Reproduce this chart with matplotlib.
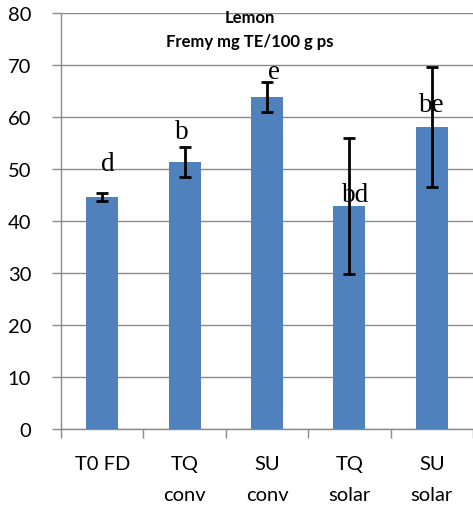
import matplotlib
matplotlib.use('Agg')
import matplotlib.pyplot as plt
import numpy as np

# Lemon, Fremy assay (mg TE/100 g ps)
treatments = ['T0 FD', 'TQ\nconv', 'SU\nconv', 'TQ\nsolar', 'SU\nsolar']
means = [44.6, 51.3, 63.8, 42.9, 58.1]
errs = [0.7, 2.9, 2.9, 13.0, 11.6]
letters = ['d', 'b', 'e', 'bd', 'be']

# baseline of the significance letters (data units) and small x nudges
letter_y = [49.8, 56.0, 67.5, 43.8, 61.2]
letter_dx = [0.07, -0.03, 0.08, 0.08, 0.0]

W, H = 473, 510
fig = plt.figure(figsize=(W / 100, H / 100), dpi=100)
ax = fig.add_axes([61 / W, (H - 430) / H, (473 - 61) / W, 416 / H])

x = np.arange(len(treatments))
ax.bar(x, means, width=0.39, color='#4F81BD', zorder=3)
ax.errorbar(x, means, yerr=errs, fmt='none', ecolor='black', elinewidth=2,
            capsize=4.5, capthick=2, zorder=4)

for xi, lab, ly, dx in zip(x, letters, letter_y, letter_dx):
    ax.text(xi + dx, ly, lab, ha='center', va='baseline', fontsize=19.5,
            family='Liberation Serif', zorder=5)

ax.set_xlim(-0.5, len(treatments) - 0.5)
ax.set_ylim(0, 80)
ax.set_yticks(np.arange(0, 81, 10))
ax.yaxis.grid(True, color='#8a8a8a', linewidth=1, zorder=0)
ax.tick_params(axis='y', length=6.5, width=1, color='#8a8a8a', pad=15,
               labelsize=14.5)

ax.set_xticks(x)
ax.set_xticklabels(treatments, fontsize=14.5, linespacing=1.95,
                   family='Lato')
ax.set_xticks(np.arange(-0.5, len(treatments)), minor=True)
ax.tick_params(axis='x', which='major', length=0, pad=19)
ax.tick_params(axis='x', which='minor', length=6.5, width=1, color='#8a8a8a')
for t in ax.get_yticklabels():
    t.set_family('Lato')

for s in ['top', 'right']:
    ax.spines[s].set_visible(False)
for s in ['left', 'bottom']:
    ax.spines[s].set_color('#8a8a8a')
    ax.spines[s].set_linewidth(1)

fig.text(250 / W, 1 - 30 / H, 'Lemon\nFremy mg TE/100 g ps', ha='center',
         va='center', fontsize=12, fontweight='bold', family='Lato',
         linespacing=1.6)

fig.savefig('out.png', dpi=100)
